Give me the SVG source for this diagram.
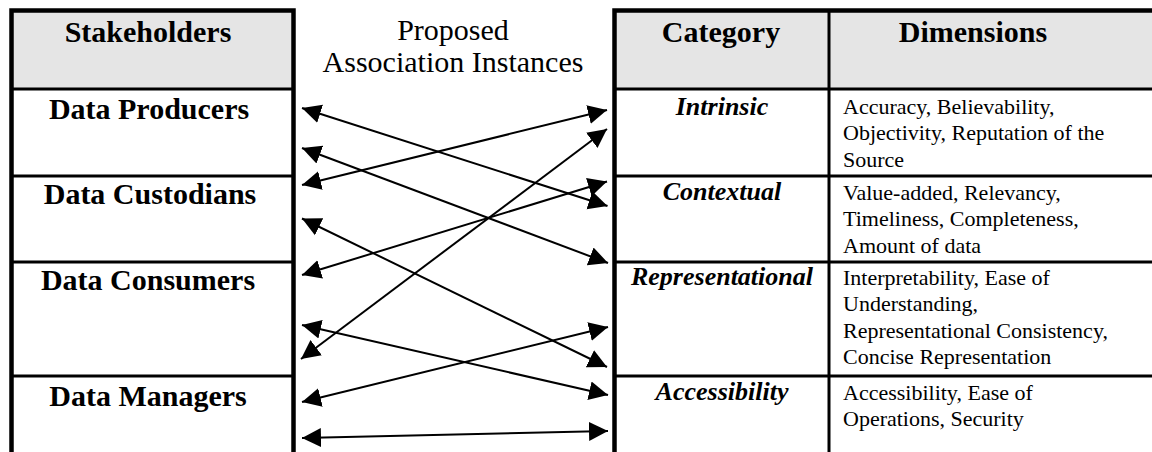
<svg xmlns="http://www.w3.org/2000/svg" width="1152" height="452" viewBox="0 0 1152 452">
<defs>
<marker id="ah" markerUnits="userSpaceOnUse" markerWidth="20" markerHeight="20" viewBox="0 0 20 20" refX="19" refY="10" orient="auto-start-reverse">
<path d="M0,0.5 L19,10 L0,19.5 Z" fill="#000"/>
</marker>
<style>
.hdr { fill:#e5e5e5; }
.outer { fill:none; stroke:#000; stroke-width:4.5; }
.rule { stroke:#000; stroke-width:3; }
.b30 { font-size:30px; font-weight:bold; text-anchor:middle; }
.r30 { font-size:30px; text-anchor:middle; }
.cat { font-size:26px; font-weight:bold; font-style:italic; text-anchor:middle; }
.dim { font-size:22px; }
.conn line { stroke:#000; stroke-width:2; marker-start:url(#ah); marker-end:url(#ah); }
</style>
</defs>
<rect x="0" y="0" width="1152" height="452" fill="#fff"/>

<g id="stakeholders-table">
<rect class="hdr" x="11.5" y="10.5" width="282" height="78.5"/>
<line class="rule" x1="11.5" y1="89" x2="293.5" y2="89"/>
<line class="rule" x1="11.5" y1="176" x2="293.5" y2="176"/>
<line class="rule" x1="11.5" y1="262" x2="293.5" y2="262"/>
<line class="rule" x1="11.5" y1="376" x2="293.5" y2="376"/>
<rect class="outer" x="11.5" y="10.5" width="282" height="460"/>
</g>
<g font-family="Liberation Serif, Times New Roman, serif" fill="#000">
<g id="stakeholders-header"><text class="b30" x="148" y="42">Stakeholders</text></g>
<g id="data-producers"><text class="b30" x="149" y="119">Data Producers</text></g>
<g id="data-custodians"><text class="b30" x="150" y="204">Data Custodians</text></g>
<g id="data-consumers"><text class="b30" x="148" y="290">Data Consumers</text></g>
<g id="data-managers"><text class="b30" x="148" y="406">Data Managers</text></g>

<g id="association-header">
<text class="r30" x="453" y="40">Proposed</text>
<text class="r30" x="453" y="72">Association Instances</text>
</g>
</g>

<g id="category-table">
<rect class="hdr" x="614.5" y="10.5" width="540" height="78.5"/>
<line class="rule" x1="614.5" y1="89" x2="1152" y2="89"/>
<line class="rule" x1="614.5" y1="176" x2="1152" y2="176"/>
<line class="rule" x1="614.5" y1="262" x2="1152" y2="262"/>
<line class="rule" x1="614.5" y1="376" x2="1152" y2="376"/>
<line class="rule" x1="829" y1="10.5" x2="829" y2="460"/>
<rect class="outer" x="614.5" y="10.5" width="600" height="460"/>
</g>
<g font-family="Liberation Serif, Times New Roman, serif" fill="#000">
<g id="category-header"><text class="b30" x="721" y="42">Category</text></g>
<g id="dimensions-header"><text class="b30" x="973" y="42">Dimensions</text></g>

<g id="intrinsic">
<text class="cat" x="722" y="115">Intrinsic</text>
<text class="dim" x="843" y="114"><tspan x="843">Accuracy, Believability,</tspan><tspan x="843" dy="26.3">Objectivity, Reputation of the</tspan><tspan x="843" dy="26.3">Source</tspan></text>
</g>
<g id="contextual">
<text class="cat" x="722" y="200">Contextual</text>
<text class="dim" x="843" y="200"><tspan x="843">Value-added, Relevancy,</tspan><tspan x="843" dy="26.3">Timeliness, Completeness,</tspan><tspan x="843" dy="26.3">Amount of data</tspan></text>
</g>
<g id="representational">
<text class="cat" x="722" y="285">Representational</text>
<text class="dim" x="843" y="285"><tspan x="843">Interpretability, Ease of</tspan><tspan x="843" dy="26.3">Understanding,</tspan><tspan x="843" dy="26.3">Representational Consistency,</tspan><tspan x="843" dy="26.3">Concise Representation</tspan></text>
</g>
<g id="accessibility">
<text class="cat" x="722" y="400">Accessibility</text>
<text class="dim" x="843" y="399.5"><tspan x="843">Accessibility, Ease of</tspan><tspan x="843" dy="26.3">Operations, Security</tspan></text>
</g>
</g>

<g id="connectors" class="conn">
<line x1="302" y1="108" x2="607.5" y2="206"/>
<line x1="302" y1="185" x2="607" y2="110"/>
<line x1="302" y1="148" x2="608" y2="263"/>
<line x1="301" y1="359" x2="607" y2="129"/>
<line x1="302" y1="275" x2="607" y2="181.5"/>
<line x1="302" y1="218.5" x2="607" y2="367"/>
<line x1="302" y1="325" x2="608" y2="395"/>
<line x1="302" y1="402" x2="608" y2="327"/>
<line x1="302" y1="438" x2="608" y2="431"/>
</g>
</svg>
